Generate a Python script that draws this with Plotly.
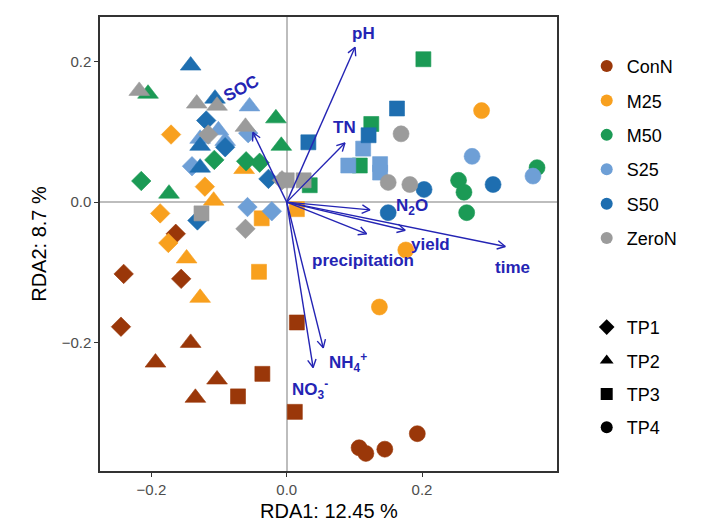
import math
import plotly.graph_objects as go

# ---------------- data ----------------
treatments = ["ConN", "M25", "M50", "S25", "S50", "ZeroN"]
colors = ["#9A3709", "#F8A01E", "#1B9A55", "#6E9FD6", "#1E6EB0", "#9B9B9B"]
timepoints = ["TP1", "TP2", "TP3", "TP4"]
symbols = ["diamond", "triangle-up", "square", "circle"]
sizes = [15, 18, 15, 16]

# ConN
conn_tp1_x = [-0.164, -0.241, -0.156, -0.245]
conn_tp1_y = [-0.045, -0.102, -0.109, -0.177]
conn_tp2_x = [-0.142, -0.194, -0.103, -0.135]
conn_tp2_y = [-0.200, -0.228, -0.252, -0.278]
conn_tp3_x = [-0.036, -0.072, 0.015, 0.012]
conn_tp3_y = [-0.244, -0.276, -0.171, -0.298]
conn_tp4_x = [0.193, 0.107, 0.117, 0.145]
conn_tp4_y = [-0.329, -0.349, -0.357, -0.351]
# M25
m25_tp1_x = [-0.171, -0.121, -0.187, -0.175]
m25_tp1_y = [0.096, 0.022, -0.016, -0.058]
m25_tp2_x = [-0.063, -0.108, -0.148, -0.128]
m25_tp2_y = [0.047, 0.002, -0.080, -0.136]
m25_tp3_x = [-0.037, -0.041, 0.015]
m25_tp3_y = [-0.023, -0.099, -0.010]
m25_tp4_x = [0.288, 0.176, 0.137]
m25_tp4_y = [0.130, -0.068, -0.149]
# M50
m50_tp1_x = [-0.215, -0.107, -0.060, -0.040]
m50_tp1_y = [0.030, 0.060, 0.058, 0.056]
m50_tp2_x = [-0.205, -0.174, -0.016, -0.008]
m50_tp2_y = [0.154, 0.012, 0.119, 0.080]
m50_tp3_x = [0.202, 0.125, 0.108, 0.034]
m50_tp3_y = [0.203, 0.111, 0.052, 0.024]
m50_tp4_x = [0.370, 0.254, 0.262, 0.266]
m50_tp4_y = [0.049, 0.031, 0.014, -0.015]
# S25
s25_tp1_x = [-0.057, -0.140, -0.058, -0.022]
s25_tp1_y = [0.098, 0.051, -0.007, -0.013]
s25_tp2_x = [-0.055, -0.101, -0.128, -0.091]
s25_tp2_y = [0.136, 0.102, 0.090, 0.087]
s25_tp3_x = [0.113, 0.091, 0.138, 0.138]
s25_tp3_y = [0.076, 0.052, 0.054, 0.042]
s25_tp4_x = [0.274, 0.364]
s25_tp4_y = [0.065, 0.037]
# S50
s50_tp1_x = [-0.119, -0.091, -0.027, -0.132]
s50_tp1_y = [0.116, 0.078, 0.033, -0.026]
s50_tp2_x = [-0.142, -0.106, -0.128, -0.128]
s50_tp2_y = [0.194, 0.147, 0.080, 0.049]
s50_tp3_x = [0.163, 0.121, 0.032]
s50_tp3_y = [0.133, 0.095, 0.085]
s50_tp4_x = [0.203, 0.305, 0.150]
s50_tp4_y = [0.018, 0.025, -0.015]
# ZeroN
zeron_tp1_x = [-0.116, -0.061, -0.007]
zeron_tp1_y = [0.096, -0.038, 0.031]
zeron_tp2_x = [-0.218, -0.133, -0.103, -0.061]
zeron_tp2_y = [0.158, 0.140, 0.137, 0.107]
zeron_tp3_x = [-0.126, 0.000, 0.025]
zeron_tp3_y = [-0.016, 0.031, 0.031]
zeron_tp4_x = [0.169, 0.150, 0.182]
zeron_tp4_y = [0.097, 0.028, 0.025]

points = {
    "ConN": [(conn_tp1_x, conn_tp1_y), (conn_tp2_x, conn_tp2_y), (conn_tp3_x, conn_tp3_y), (conn_tp4_x, conn_tp4_y)],
    "M25": [(m25_tp1_x, m25_tp1_y), (m25_tp2_x, m25_tp2_y), (m25_tp3_x, m25_tp3_y), (m25_tp4_x, m25_tp4_y)],
    "M50": [(m50_tp1_x, m50_tp1_y), (m50_tp2_x, m50_tp2_y), (m50_tp3_x, m50_tp3_y), (m50_tp4_x, m50_tp4_y)],
    "S25": [(s25_tp1_x, s25_tp1_y), (s25_tp2_x, s25_tp2_y), (s25_tp3_x, s25_tp3_y), (s25_tp4_x, s25_tp4_y)],
    "S50": [(s50_tp1_x, s50_tp1_y), (s50_tp2_x, s50_tp2_y), (s50_tp3_x, s50_tp3_y), (s50_tp4_x, s50_tp4_y)],
    "ZeroN": [(zeron_tp1_x, zeron_tp1_y), (zeron_tp2_x, zeron_tp2_y), (zeron_tp3_x, zeron_tp3_y), (zeron_tp4_x, zeron_tp4_y)],
}

# environmental vectors (arrow tips) and label positions
env_names = ["pH", "TN", "SOC", "N<sub>2</sub>O", "yield", "precipitation", "time",
             "NH<sub>4</sub><sup>+</sup>", "NO<sub>3</sub><sup>-</sup>"]
env_x = [0.101, 0.086, -0.050, 0.123, 0.175, 0.118, 0.323, 0.054, 0.039]
env_y = [0.220, 0.084, 0.099, -0.011, -0.040, -0.045, -0.063, -0.207, -0.235]
label_x = [0.113, 0.086, -0.067, 0.185, 0.212, 0.113, 0.333, 0.091, 0.034]
label_y = [0.240, 0.106, 0.161, -0.007, -0.060, -0.083, -0.093, -0.228, -0.266]
label_angle = [0, 0, -28, 0, 0, 0, 0, 0, 0]

x_range = [-0.276, 0.3995]
y_range = [-0.382, 0.263]
x_ticks = [-0.2, 0.0, 0.2]
y_ticks = [-0.2, 0.0, 0.2]
x_title = "RDA1: 12.45 %"
y_title = "RDA2: 8.7 %"

# ---------------- figure ----------------
# page body has an 8px default margin, so the figure is 8px smaller and margins compensate
W, H = 700, 517
ML, MR, MT, MB = 92, 151, 9, 54
FONT = "Liberation Sans, Arial, sans-serif"
fig = go.Figure()

for t, c in zip(treatments, colors):
    for k, (xs, ys) in enumerate(points[t]):
        fig.add_trace(go.Scatter(
            x=xs, y=ys, mode="markers", showlegend=False, hoverinfo="skip",
            marker=dict(symbol=symbols[k], size=sizes[k], color=c,
                        line=dict(width=0.6, color=c)),
        ))

# arrows (shaft + open head), computed in pixel space
arrow_col = "#2424B4"
sx = (W - ML - MR) / (x_range[1] - x_range[0])
sy = (H - MT - MB) / (y_range[1] - y_range[0])
for ex, ey in zip(env_x, env_y):
    fig.add_trace(go.Scatter(x=[0, ex], y=[0, ey], mode="lines", showlegend=False,
                             hoverinfo="skip", line=dict(color=arrow_col, width=1.4)))
    ang = math.atan2(ey * sy, ex * sx)
    L = 9
    a1 = ang + math.pi + math.radians(28)
    a2 = ang + math.pi - math.radians(28)
    fig.add_trace(go.Scatter(
        x=[ex + L * math.cos(a1) / sx, ex, ex + L * math.cos(a2) / sx],
        y=[ey + L * math.sin(a1) / sy, ey, ey + L * math.sin(a2) / sy],
        mode="lines", showlegend=False, hoverinfo="skip",
        line=dict(color=arrow_col, width=1.4)))

for name, lx, ly, an in zip(env_names, label_x, label_y, label_angle):
    fig.add_annotation(x=lx, y=ly, text="<b>" + name + "</b>", showarrow=False,
                       textangle=an, font=dict(family=FONT, size=17, color=arrow_col))

# x-axis title as annotation (placed closer to the tick labels)
fig.add_annotation(x=0.5, y=0, xref="paper", yref="paper", xanchor="center", yanchor="top",
                   yshift=-27, text=x_title, showarrow=False,
                   font=dict(family=FONT, size=20, color="black"))

# legend entries
for t, c in zip(treatments, colors):
    fig.add_trace(go.Scatter(x=[None], y=[None], mode="markers", name=t, legend="legend",
                             legendgroup=t, marker=dict(symbol="circle", size=16, color=c)))
for tp, s in zip(timepoints, symbols):
    fig.add_trace(go.Scatter(x=[None], y=[None], mode="markers", name=tp, legend="legend2",
                             legendgroup=tp, marker=dict(symbol=s, size=14, color="black")))

axis_common = dict(showgrid=False, zeroline=True, zerolinecolor="#BDBDBD", zerolinewidth=1.5,
                   showline=True, linecolor="#333333", linewidth=1.5, mirror=True,
                   ticks="outside", ticklen=4, tickcolor="#333333", tickwidth=1.2,
                   tickfont=dict(family=FONT, size=15, color="#4D4D4D"),
                   tickformat=".1f", automargin=False)

fig.update_layout(
    width=W, height=H, margin=dict(l=ML, r=MR, t=MT, b=MB),
    plot_bgcolor="white", paper_bgcolor="white",
    xaxis=dict(range=x_range, tickvals=x_ticks, **axis_common),
    yaxis=dict(range=y_range, tickvals=y_ticks, **axis_common,
               title=dict(text=y_title, standoff=10,
                          font=dict(family=FONT, size=20, color="black"))),
    legend=dict(x=1.065, y=0.932, xanchor="left", yanchor="top", bgcolor="rgba(0,0,0,0)",
                font=dict(family=FONT, size=18, color="black"),
                tracegroupgap=8, itemsizing="constant", traceorder="grouped"),
    legend2=dict(x=1.065, y=0.357, xanchor="left", yanchor="top", bgcolor="rgba(0,0,0,0)",
                 font=dict(family=FONT, size=18, color="black"),
                 tracegroupgap=7, itemsizing="constant", traceorder="grouped"),
)

fig.write_html("out.html")
